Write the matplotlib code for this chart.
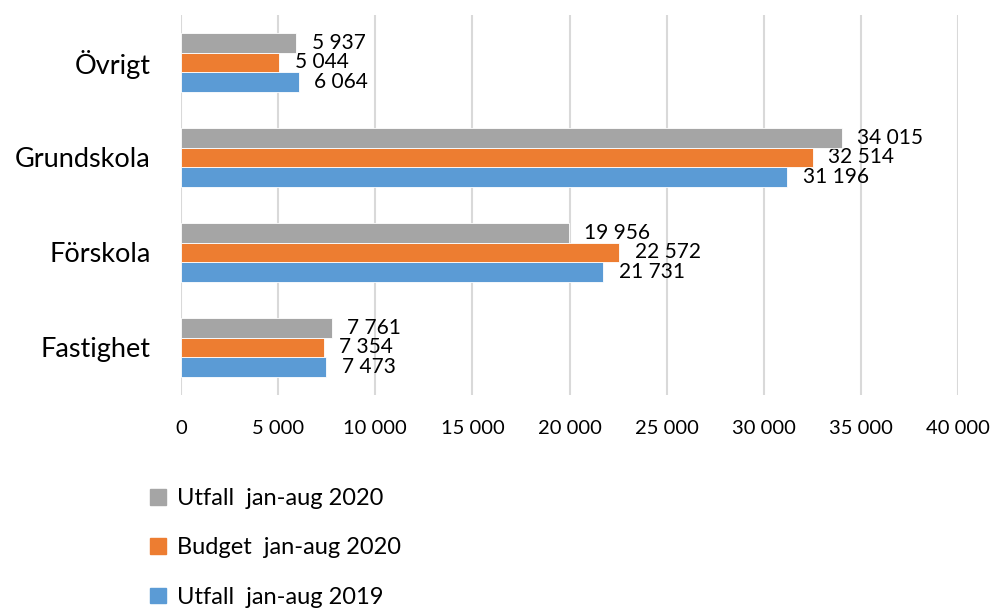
import numpy as np
import matplotlib
matplotlib.use("Agg")
import matplotlib.pyplot as plt
from matplotlib.patches import Patch

plt.rcParams['font.family'] = ['Lato', 'DejaVu Sans']

categories = ['Fastighet', 'Förskola', 'Grundskola', 'Övrigt']
series = ['Utfall  jan-aug 2019', 'Budget  jan-aug 2020', 'Utfall  jan-aug 2020']
utfall_2019 = [7473, 21731, 31196, 6064]
budget_2020 = [7354, 22572, 32514, 5044]
utfall_2020 = [7761, 19956, 34015, 5937]
colors = ['#5B9BD5', '#ED7D31', '#A5A5A5']

def fmt(v):
    return f"{v:,}".replace(",", " ")

fig = plt.figure(figsize=(9.92, 6.12), dpi=100)
ax = fig.add_axes([0.1825, 0.3546, 0.7832, 0.621])

y = np.arange(len(categories))
h = 0.205
offsets = [-h, 0, h]
for vals, off, c in zip([utfall_2019, budget_2020, utfall_2020], offsets, colors):
    bars = ax.barh(y + off, vals, height=h, color=c, edgecolor='white', linewidth=0.6, zorder=3)
    for b, v in zip(bars, vals):
        ax.text(b.get_width() + 800, b.get_y() + b.get_height() / 2, fmt(v),
                va='center', ha='left', fontsize=15, color='black')

ax.set_xlim(0, 40000)
ax.set_ylim(-0.5, 3.5)
ticks = np.arange(0, 40001, 5000)
ax.set_xticks(ticks)
ax.set_xticklabels([fmt(t) for t in ticks], fontsize=14.5)
ax.set_yticks(y)
ax.set_yticklabels(categories, fontsize=19.5)
ax.tick_params(axis='both', length=0)
ax.tick_params(axis='x', pad=18)
ax.tick_params(axis='y', pad=22)
ax.grid(axis='x', color='#D9D9D9', linewidth=1.5, zorder=0)
for s in ax.spines.values():
    s.set_visible(False)

handles = [Patch(color=colors[2]), Patch(color=colors[1]), Patch(color=colors[0])]
labels = [series[2], series[1], series[0]]
fig.legend(handles, labels, loc='upper left', bbox_to_anchor=(0.142, 0.218),
           frameon=False, fontsize=17, handlelength=0.65, handleheight=0.65,
           handletextpad=0.5, labelspacing=1.2, borderaxespad=0)

fig.savefig('out.png', dpi=100)
